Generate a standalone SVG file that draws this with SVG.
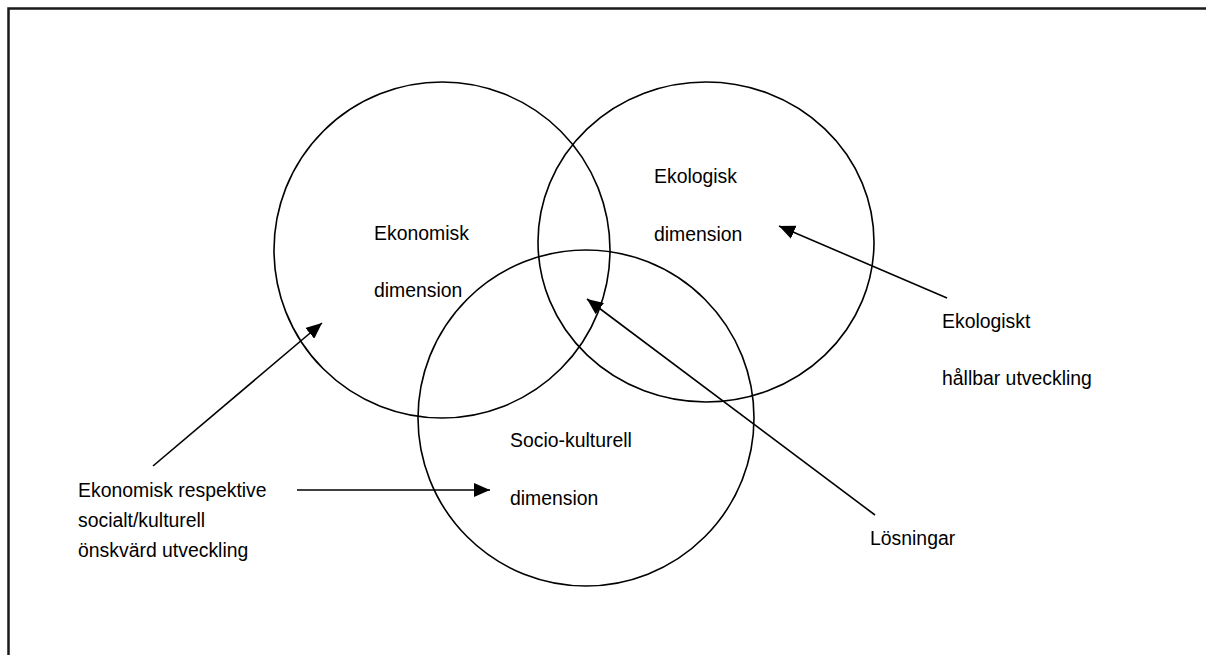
<svg xmlns="http://www.w3.org/2000/svg" width="1206" height="655" viewBox="0 0 1206 655">
<style>
.frame{fill:none;stroke:#1a1a1a;stroke-width:2.5}
.ring{fill:none;stroke:#000;stroke-width:1.6}
.conn{fill:none;stroke:#000;stroke-width:1.6}
text{font-family:"Liberation Sans",Arial,sans-serif;font-size:19.4px;fill:#000}
</style>
<defs>
<marker id="arr" viewBox="0 0 16 14" refX="16" refY="7" markerWidth="16" markerHeight="14" markerUnits="userSpaceOnUse" orient="auto">
<path d="M0,0 L16,7 L0,14 Z" fill="#000"/>
</marker>
</defs>
<rect width="1206" height="655" fill="#fff"/>
<path class="frame" d="M8.5,655 V8.5 H1206"/>
<g id="ekonomisk">
<circle class="ring" cx="442" cy="250" r="168"/>
<text x="374" y="240">Ekonomisk</text>
<text x="374" y="297">dimension</text>
</g>
<g id="ekologisk">
<ellipse class="ring" cx="706" cy="242" rx="168" ry="160"/>
<text x="654" y="183">Ekologisk</text>
<text x="654" y="241">dimension</text>
</g>
<g id="sociokulturell">
<circle class="ring" cx="586" cy="418" r="168"/>
<text x="510" y="447">Socio-kulturell</text>
<text x="510" y="505">dimension</text>
</g>
<g id="label-ekonomisk-social">
<text x="78" y="497">Ekonomisk respektive</text>
<text x="78" y="527">socialt/kulturell</text>
<text x="78" y="557">önskvärd utveckling</text>
</g>
<g id="label-ekologiskt">
<text x="942" y="328">Ekologiskt</text>
<text x="942" y="385">hållbar utveckling</text>
</g>
<g id="label-losningar">
<text x="870" y="545">Lösningar</text>
</g>
<g id="connectors">
<line class="conn" x1="153" y1="466" x2="322" y2="323" marker-end="url(#arr)"/>
<line class="conn" x1="297" y1="490" x2="490" y2="490" marker-end="url(#arr)"/>
<line class="conn" x1="875" y1="515" x2="587" y2="299" marker-end="url(#arr)"/>
<line class="conn" x1="947" y1="298" x2="779" y2="226" marker-end="url(#arr)"/>
</g>
</svg>
